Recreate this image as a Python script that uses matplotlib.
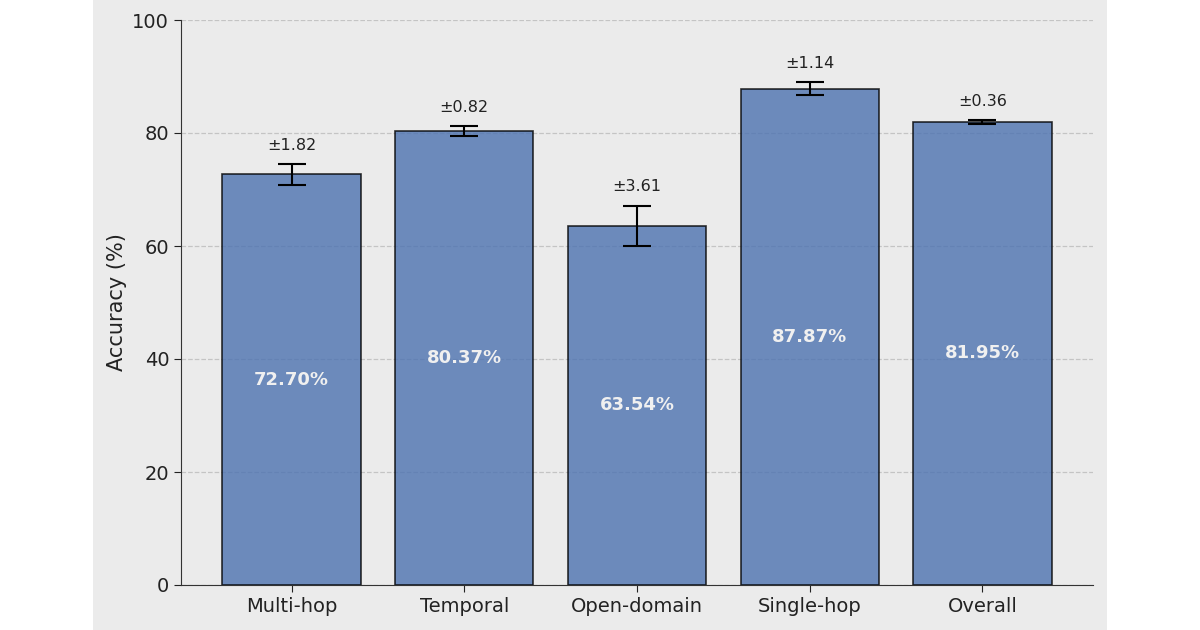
import matplotlib.pyplot as plt
import matplotlib.patches as mpatches
import numpy as np

# Data
categories = ['Multi-hop', 'Temporal', 'Open-domain', 'Single-hop', 'Overall']
accuracy = [72.70, 80.37, 63.54, 87.87, 81.95]
std_err = [1.82, 0.82, 3.61, 1.14, 0.36]

bg = '#EBEBEB'

fig = plt.figure(figsize=(12, 6.3), dpi=100, facecolor='white')
# grey panel behind the plot (the reference is padded with white on both sides)
fig.patches.append(mpatches.Rectangle((93 / 1200, 0), 1014 / 1200, 1,
                                      transform=fig.transFigure, facecolor=bg,
                                      edgecolor='none', zorder=-10))

ax = fig.add_axes([181 / 1200, 45 / 630, 912 / 1200, 565 / 630])
ax.set_facecolor(bg)

x = np.arange(len(categories))
bars = ax.bar(x, accuracy, width=0.8, color='#4C72B0', alpha=0.8,
              edgecolor='black', linewidth=1.2, zorder=2)
ax.errorbar(x, accuracy, yerr=std_err, fmt='none', ecolor='black',
            elinewidth=1.5, capsize=10, capthick=1.5, zorder=3)

for xi, val, err in zip(x, accuracy, std_err):
    ax.text(xi, val + err + 2, '\u00b1%.2f' % err, ha='center', va='bottom',
            fontsize=11.5, color='#222222')
    ax.text(xi, val / 2, '%.2f%%' % val, ha='center', va='center',
            fontsize=13, fontweight='bold', color='#F0F0F0')

ax.set_ylim(0, 100)
ax.set_yticks(np.arange(0, 101, 20))
ax.set_xticks(x)
ax.set_xticklabels(categories)
ax.tick_params(axis='both', labelsize=14, colors='#222222', length=5)
ax.set_ylabel('Accuracy (%)', fontsize=15, color='#222222')
ax.yaxis.grid(True, linestyle='--', color='#C4C4C4', linewidth=0.9, zorder=0)
ax.set_axisbelow(True)
ax.spines['top'].set_visible(False)
ax.spines['right'].set_visible(False)
ax.spines['left'].set_color('#333333')
ax.spines['bottom'].set_color('#333333')

fig.savefig('out.png', dpi=100, facecolor='white')
